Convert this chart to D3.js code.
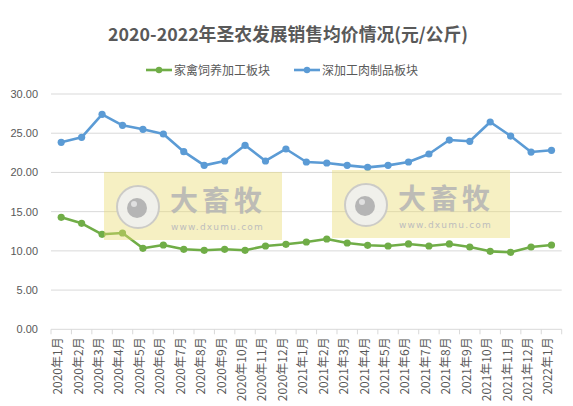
<!DOCTYPE html>
<html><head><meta charset="utf-8">
<script src="https://cdn.jsdelivr.net/npm/d3@7"></script>
<style>body{margin:0;background:#fff}svg{display:block;font-family:"Microsoft YaHei","Noto Sans CJK SC",sans-serif}</style>
</head><body>
<svg id="c" width="573" height="406"></svg>
<script>
const categories = ["2020年1月","2020年2月","2020年3月","2020年4月","2020年5月","2020年6月","2020年7月","2020年8月","2020年9月","2020年10月","2020年11月","2020年12月","2021年1月","2021年2月","2021年3月","2021年4月","2021年5月","2021年6月","2021年7月","2021年8月","2021年9月","2021年10月","2021年11月","2021年12月","2022年1月"];
const poultryFeed = [14.28,13.51,12.11,12.28,10.33,10.75,10.20,10.07,10.20,10.07,10.62,10.84,11.13,11.51,11.00,10.71,10.62,10.88,10.62,10.88,10.49,9.94,9.82,10.49,10.75];
const deepMeat = [23.84,24.48,27.41,26.01,25.50,24.90,22.65,20.90,21.46,23.46,21.46,22.99,21.33,21.20,20.90,20.65,20.90,21.33,22.35,24.13,23.97,26.43,24.64,22.60,22.82];
const yTicks = [0,5,10,15,20,25,30];
const seriesNames = ["家禽饲养加工板块","深加工肉制品板块"];
const colors = ["#70ad47","#5b9bd5"];

const svg = d3.select("#c");
const x = d3.scaleBand().domain(categories).range([51, 561.7]);
const y = d3.scaleLinear().domain([0,30]).range([329.3, 94]);
const txt = "#595959";

// title
svg.append("text").attr("x",288).attr("y",41).attr("text-anchor","middle")
  .attr("font-size",17.8).attr("font-weight","bold").attr("fill",txt)
  .text("2020-2022年圣农发展销售均价情况(元/公斤)");

// gridlines
svg.append("g").selectAll("line").data(yTicks.filter(d=>d>0)).join("line")
  .attr("x1",51).attr("x2",561.7).attr("y1",d=>y(d)).attr("y2",d=>y(d))
  .attr("stroke","#d9d9d9").attr("stroke-width",1);

// y axis labels
svg.append("g").selectAll("text").data(yTicks).join("text")
  .attr("x",38).attr("y",d=>y(d)+4).attr("text-anchor","end")
  .attr("font-size",11).attr("fill",txt).attr("font-family","Liberation Sans, Arial, sans-serif")
  .text(d=>d3.format(".2f")(d));

// x axis
const xa = svg.append("g").attr("transform",`translate(0,${y(0)})`);
xa.append("line").attr("x1",51).attr("x2",561.7).attr("stroke","#d9d9d9");
const bounds = categories.map(c=>x(c)).concat([x.range()[1]]);
xa.selectAll("line.t").data(bounds).join("line").attr("class","t")
  .attr("x1",d=>d).attr("x2",d=>d).attr("y1",0).attr("y2",5).attr("stroke","#d9d9d9");
xa.selectAll("text").data(categories).join("text")
  .attr("transform",d=>`translate(${x(d)+x.bandwidth()/2+1},8) rotate(-90)`)
  .attr("text-anchor","end").attr("font-size",12).attr("fill",txt)
  .text(d=>d);

// lines
const line = d3.line().x((d,i)=>x(categories[i])+x.bandwidth()/2).y(d=>y(d));
[poultryFeed, deepMeat].forEach((s,k)=>{
  svg.append("path").datum(s).attr("d",line).attr("fill","none")
    .attr("stroke",colors[k]).attr("stroke-width",2.6).attr("stroke-linejoin","round");
  svg.append("g").selectAll("circle").data(s).join("circle")
    .attr("cx",(d,i)=>x(categories[i])+x.bandwidth()/2).attr("cy",d=>y(d))
    .attr("r",3.6).attr("fill",colors[k]);
});

// legend
const lg = [{x0:146,tx:174},{x0:294,tx:322}];
seriesNames.forEach((n,k)=>{
  const g = svg.append("g");
  g.append("line").attr("x1",lg[k].x0).attr("x2",lg[k].x0+26).attr("y1",70).attr("y2",70)
    .attr("stroke",colors[k]).attr("stroke-width",2.6);
  g.append("circle").attr("cx",lg[k].x0+13).attr("cy",70).attr("r",3.2).attr("fill",colors[k]);
  g.append("text").attr("x",lg[k].tx).attr("y",74.5).attr("font-size",12).attr("fill",txt).text(n);
});

// watermarks
[{bx:104,by:172},{bx:332,by:170}].forEach(w=>{
  const g = svg.append("g");
  g.append("rect").attr("x",w.bx).attr("y",w.by).attr("width",178).attr("height",68)
    .attr("fill","#eadc70").attr("opacity",0.42);
  g.append("circle").attr("cx",w.bx+34).attr("cy",w.by+35).attr("r",21)
    .attr("fill","#f0f0f0").attr("stroke","#c8c8c8").attr("stroke-width",2).attr("opacity",0.9);
  g.append("circle").attr("cx",w.bx+33).attr("cy",w.by+36).attr("r",10).attr("fill","#b5b5b5");
  g.append("circle").attr("cx",w.bx+30).attr("cy",w.by+32).attr("r",3).attr("fill","#e0e0e0");
  g.append("text").attr("x",w.bx+66).attr("y",w.by+39).attr("font-size",28).attr("font-weight","bold")
    .attr("fill","#b4b4b4").attr("opacity",0.85).attr("letter-spacing",4).text("大畜牧");
  g.append("text").attr("x",w.bx+67).attr("y",w.by+58).attr("font-size",9)
    .attr("fill","#bdbdbd").attr("letter-spacing",1.2).attr("font-family","DejaVu Sans, sans-serif").text("www.dxumu.com");
});
</script>
</body></html>
